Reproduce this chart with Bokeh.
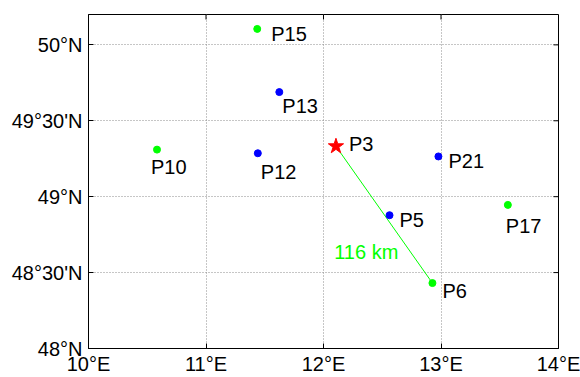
import math
from bokeh.plotting import figure
from bokeh.models import Range1d, FixedTicker, ColumnDataSource
from bokeh.core.properties import value
from bokeh.embed import file_html
from bokeh.resources import INLINE

# ---- data ----
x_ticks = [10, 11, 12, 13, 14]
x_tick_labels = ["10°E", "11°E", "12°E", "13°E", "14°E"]
y_ticks = [48, 48.5, 49, 49.5, 50]
y_tick_labels = ["48°N", "48°30'N", "49°N", "49°30'N", "50°N"]

green_names = ["P15", "P10", "P17", "P6"]
green_lon = [11.436, 10.583, 13.569, 12.927]
green_lat = [50.105, 49.310, 48.946, 48.431]

blue_names = ["P13", "P12", "P21", "P5"]
blue_lon = [11.624, 11.441, 12.978, 12.562]
blue_lat = [49.689, 49.286, 49.265, 48.878]

center_name = "P3"
center_lon = 12.106
center_lat = 49.332

link_target = "P6"
distance_km = 116

# ---- label placement (screen px offsets, style only) ----
label_offsets = {
    "P15": (14, 5), "P10": (-6, 17), "P17": (-2, 21), "P6": (10, 8),
    "P13": (3, 14), "P12": (3, 19), "P21": (10, 5), "P5": (10, 5),
    "P3": (13, -2),
}

FONT = "Liberation Sans"
FS = "20px"

p = figure(width=580, height=377, output_backend="svg", toolbar_location=None,
           x_range=Range1d(10, 14), y_range=Range1d(48, 50.2),
           min_border_left=88, min_border_right=22, min_border_top=14,
           min_border_bottom=0)
p.background_fill_color = "white"
p.border_fill_color = "white"
p.outline_line_color = "black"
p.outline_line_width = 1

for ax in (p.xaxis[0], p.yaxis[0]):
    ax.major_tick_in = 5
    ax.major_tick_out = 0
    ax.minor_tick_line_color = None
    ax.axis_line_color = "black"
    ax.major_tick_line_color = "black"
    ax.major_label_text_font = FONT
    ax.major_label_text_font_size = FS
    ax.major_label_text_color = "black"

p.xaxis.ticker = FixedTicker(ticks=x_ticks)
p.yaxis.ticker = FixedTicker(ticks=y_ticks)
p.xaxis.major_label_overrides = dict(zip(x_ticks, x_tick_labels))
p.yaxis.major_label_overrides = dict(zip(y_ticks, y_tick_labels))
p.xaxis.major_label_standoff = 4
p.yaxis.major_label_standoff = 6

p.xgrid.ticker = FixedTicker(ticks=x_ticks)
p.ygrid.ticker = FixedTicker(ticks=y_ticks)
for g in (p.xgrid[0], p.ygrid[0]):
    g.grid_line_color = "#8c8c8c"
    g.grid_line_dash = "1 2"
    g.grid_line_width = 1

# inward ticks on the top and right edges of the box
p.ray(x=x_ticks, y=[p.y_range.end] * len(x_ticks), length=5, length_units="screen",
      angle=-math.pi / 2, line_color="black", line_width=1)
p.ray(x=[p.x_range.end] * len(y_ticks), y=y_ticks, length=5, length_units="screen",
      angle=math.pi, line_color="black", line_width=1)

# link line P3 -> P6
ti = green_names.index(link_target)
p.line([center_lon, green_lon[ti]], [center_lat, green_lat[ti]],
       line_color="#00ff00", line_width=1)

# distance label near the middle of the link
mid_lon = (center_lon + green_lon[ti]) / 2
mid_lat = (center_lat + green_lat[ti]) / 2
p.text([mid_lon], [mid_lat], text=[f"{distance_km} km"], x_offset=-50, y_offset=37,
       text_font=value(FONT), text_font_size=FS, text_color="#00ff00",
       text_align="left", text_baseline="middle")

def add_points(names, lons, lats, color):
    src = ColumnDataSource(dict(
        x=lons, y=lats, name=names,
        dx=[label_offsets[n][0] for n in names],
        dy=[label_offsets[n][1] for n in names]))
    p.scatter("x", "y", source=src, size=7, fill_color=color, line_color=color)
    p.text("x", "y", text="name", source=src, x_offset="dx", y_offset="dy",
           text_font=value(FONT), text_font_size=FS, text_color="black",
           text_align="left", text_baseline="middle")

add_points(green_names, green_lon, green_lat, "#00ff00")
add_points(blue_names, blue_lon, blue_lat, "#0000ff")

star = ColumnDataSource(dict(x=[center_lon], y=[center_lat], name=[center_name],
                             dx=[label_offsets[center_name][0]],
                             dy=[label_offsets[center_name][1]]))
p.scatter("x", "y", source=star, marker="star", size=16,
          fill_color="#ff0000", line_color="#ff0000")
p.text("x", "y", text="name", source=star, x_offset="dx", y_offset="dy",
       text_font=value(FONT), text_font_size=FS, text_color="black",
       text_align="left", text_baseline="middle")

open("out.html", "w").write(file_html(p, INLINE))
